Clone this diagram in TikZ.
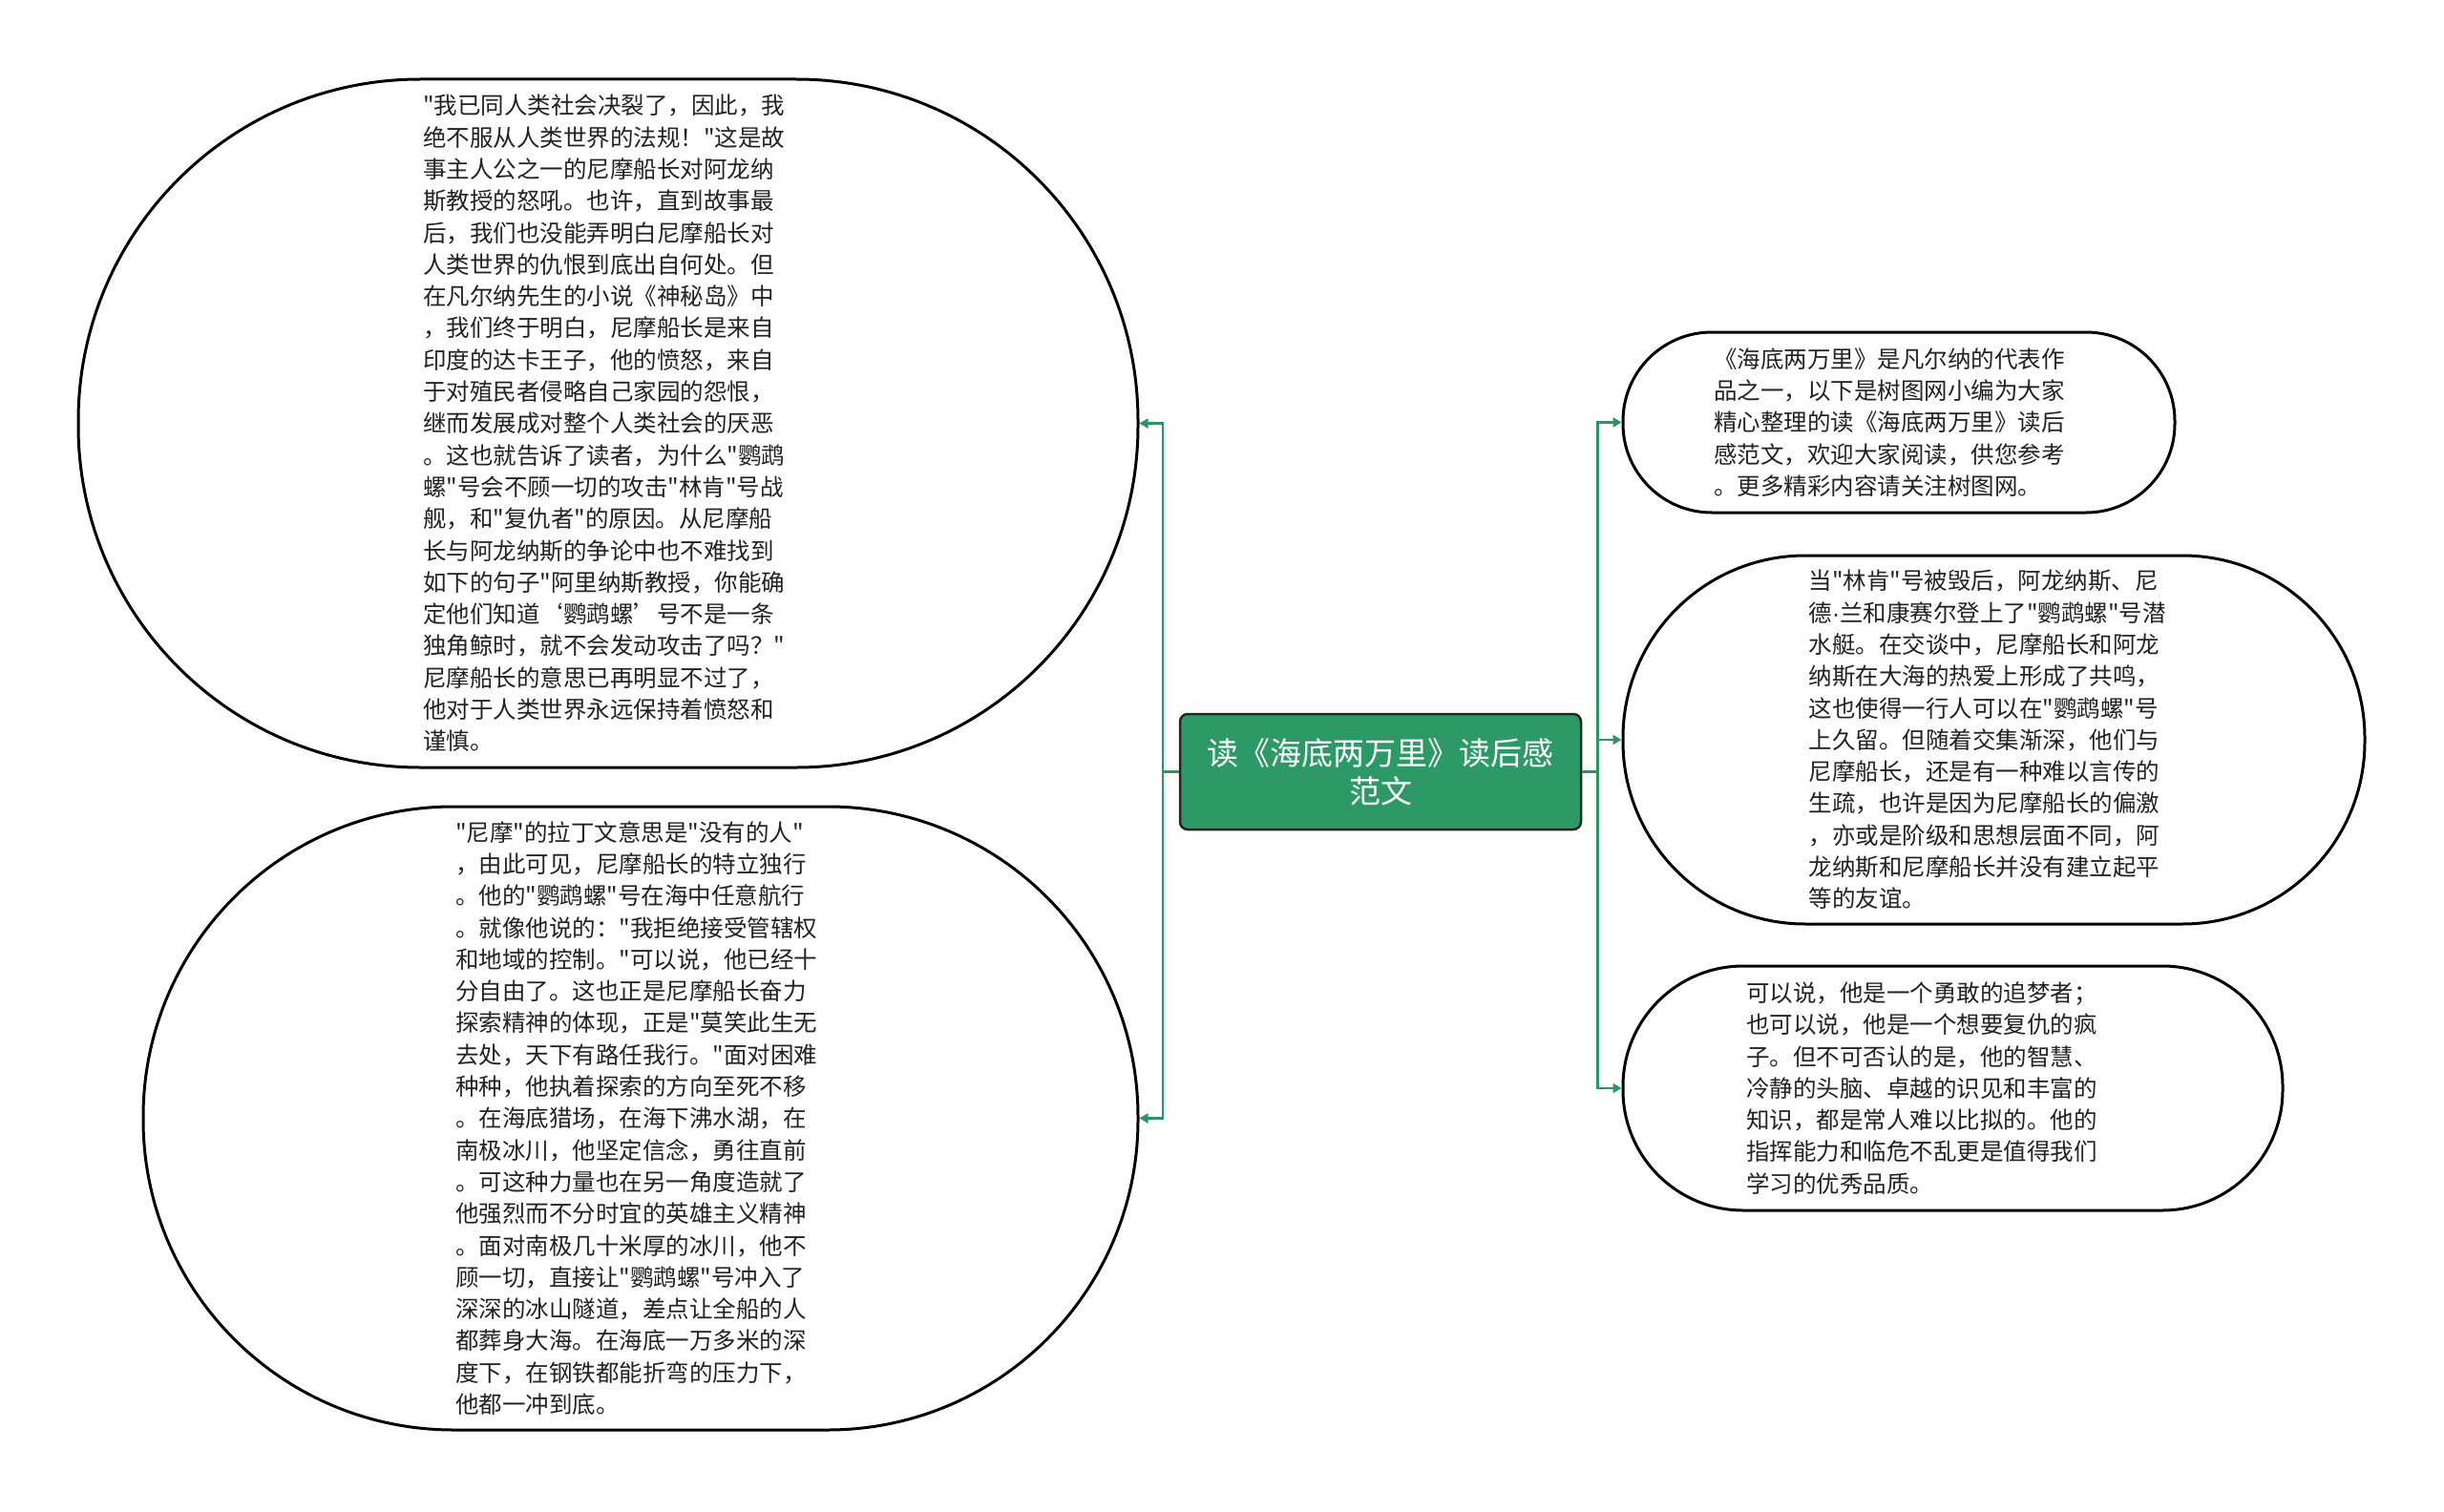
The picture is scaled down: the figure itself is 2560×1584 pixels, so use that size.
\documentclass[tikz,border=0pt]{standalone}
\usepackage{fontspec}
\newfontfamily\cjk{Noto Sans CJK SC}
\newfontfamily\latin{Liberation Sans}
\usepackage{tikz}
\usetikzlibrary{arrows.meta,positioning}
\definecolor{TreeGreen}{RGB}{44,153,103}
\definecolor{LinkGreen}{RGB}{42,150,100}
\definecolor{Ink}{RGB}{34,34,34}
\tikzset{
  hub/.style={rectangle, rounded corners=8pt, draw=black!85, line width=2.5pt, fill=TreeGreen,
    text=white, align=center, inner sep=0pt, minimum width=420pt, minimum height=121pt,
    font=\cjk\fontsize{33}{40}\selectfont},
  bubble/.style={rectangle, rounded corners=#1, draw=black, line width=3pt, fill=white,
    text=Ink, align=left, inner sep=0pt, text width=388pt, font=\cjk\fontsize{24.5}{33.3}\selectfont},
  link/.style={-{Triangle[length=9pt, width=10pt]}, draw=LinkGreen, line width=2.5pt},
}
\begin{document}
\begin{tikzpicture}[x=1pt, y=-1pt]
  \useasboundingbox (0,0) rectangle (2560,1584);
  \node[hub] (main) at (1446,808.5) {读《海底两万里》读后感\\范文};
  % left side
  \node[bubble=358pt, minimum width=1110pt, minimum height=721pt] (l1) at (637,443.5) {"我已同人类社会决裂了，因此，我\\绝不服从人类世界的法规！"这是故\\事主人公之一的尼摩船长对阿龙纳\\斯教授的怒吼。也许，直到故事最\\后，我们也没能弄明白尼摩船长对\\人类世界的仇恨到底出自何处。但\\在凡尔纳先生的小说《神秘岛》中\\，我们终于明白，尼摩船长是来自\\印度的达卡王子，他的愤怒，来自\\于对殖民者侵略自己家园的怨恨，\\继而发展成对整个人类社会的厌恶\\。这也就告诉了读者，为什么"鹦鹉\\螺"号会不顾一切的攻击"林肯"号战\\舰，和"复仇者"的原因。从尼摩船\\长与阿龙纳斯的争论中也不难找到\\如下的句子"阿里纳斯教授，你能确\\定他们知道‘鹦鹉螺’号不是一条\\独角鲸时，就不会发动攻击了吗？"\\尼摩船长的意思已再明显不过了，\\他对于人类世界永远保持着愤怒和\\谨慎。};
  \node[bubble=325pt, minimum width=1042pt, minimum height=653pt] (l2) at (671,1171.5) {"尼摩"的拉丁文意思是"没有的人"\\，由此可见，尼摩船长的特立独行\\。他的"鹦鹉螺"号在海中任意航行\\。就像他说的："我拒绝接受管辖权\\和地域的控制。"可以说，他已经十\\分自由了。这也正是尼摩船长奋力\\探索精神的体现，正是"莫笑此生无\\去处，天下有路任我行。"面对困难\\种种，他执着探索的方向至死不移\\。在海底猎场，在海下沸水湖，在\\南极冰川，他坚定信念，勇往直前\\。可这种力量也在另一角度造就了\\他强烈而不分时宜的英雄主义精神\\。面对南极几十米厚的冰川，他不\\顾一切，直接让"鹦鹉螺"号冲入了\\深深的冰山隧道，差点让全船的人\\都葬身大海。在海底一万多米的深\\度下，在钢铁都能折弯的压力下，\\他都一冲到底。};
  % right side
  \node[bubble=93pt, minimum width=578pt, minimum height=189pt] (r1) at (1989,442.5) {《海底两万里》是凡尔纳的代表作\\品之一，以下是树图网小编为大家\\精心整理的读《海底两万里》读后\\感范文，欢迎大家阅读，供您参考\\。更多精彩内容请关注树图网。};
  \node[bubble=191pt, minimum width=777pt, minimum height=386pt] (r2) at (2088.5,775) {当"林肯"号被毁后，阿龙纳斯、尼\\德{\latin ·}兰和康赛尔登上了"鹦鹉螺"号潜\\水艇。在交谈中，尼摩船长和阿龙\\纳斯在大海的热爱上形成了共鸣，\\这也使得一行人可以在"鹦鹉螺"号\\上久留。但随着交集渐深，他们与\\尼摩船长，还是有一种难以言传的\\生疏，也许是因为尼摩船长的偏激\\，亦或是阶级和思想层面不同，阿\\龙纳斯和尼摩船长并没有建立起平\\等的友谊。};
  \node[bubble=126pt, minimum width=691pt, minimum height=256pt, text width=433pt] (r3) at (2045.5,1140) {可以说，他是一个勇敢的追梦者；\\也可以说，他是一个想要复仇的疯\\子。但不可否认的是，他的智慧、\\冷静的头脑、卓越的识见和丰富的\\知识，都是常人难以比拟的。他的\\指挥能力和临危不乱更是值得我们\\学习的优秀品质。};
  \draw[link] (main.west) -- ++(-17,0) |- (l1.east); \draw[link] (main.west) -- ++(-17,0) |- (l2.east);
  \draw[link] (main.east) -- ++(16,0) |- (r1.west); \draw[link] (main.east) -- ++(16,0) |- (r2.west); \draw[link] (main.east) -- ++(16,0) |- (r3.west);
\end{tikzpicture}
\end{document}
